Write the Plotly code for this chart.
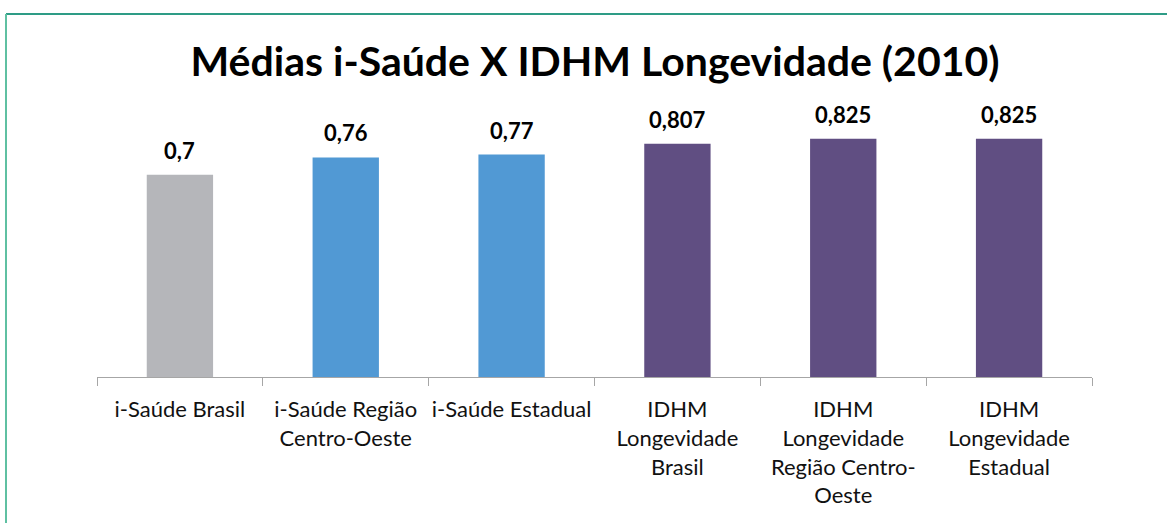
import plotly.graph_objects as go

categories = [
    "i-Saúde Brasil",
    "i-Saúde Região<br>Centro-Oeste",
    "i-Saúde Estadual",
    "IDHM<br>Longevidade<br>Brasil",
    "IDHM<br>Longevidade<br>Região Centro-<br>Oeste",
    "IDHM<br>Longevidade<br>Estadual",
]
values = [0.7, 0.76, 0.77, 0.807, 0.825, 0.825]
labels = ["0,7", "0,76", "0,77", "0,807", "0,825", "0,825"]
colors = ["#B5B6BA", "#5199D4", "#5199D4", "#604E82", "#604E82", "#604E82"]

W, H = 1167, 523
L, R, T, B = 97, 75, 117, 146
pw, ph = W - L - R, H - T - B

fig = go.Figure()
fig.add_trace(go.Bar(
    x=categories, y=values, marker=dict(color=colors, line=dict(width=0)),
    hoverinfo="skip",
))
for c, v, t in zip(categories, values, labels):
    fig.add_annotation(x=c, y=v, text="<b>" + t + "</b>", showarrow=False,
                       yanchor="bottom", yshift=9,
                       font=dict(family="Lato", size=22, color="#000000"))

def px_x(x):
    return (x - L) / pw

def px_y(y):
    return (H - B - y) / ph

fig.add_shape(type="line", xref="paper", yref="paper",
              x0=px_x(6), x1=px_x(W), y0=px_y(14), y1=px_y(14),
              line=dict(color="#2E9C86", width=2))
fig.add_shape(type="line", xref="paper", yref="paper",
              x0=px_x(6), x1=px_x(6), y0=px_y(14), y1=px_y(H),
              line=dict(color="#5FC0A2", width=2))

fig.update_layout(
    width=W, height=H,
    margin=dict(l=L, r=R, t=T, b=B, autoexpand=False),
    paper_bgcolor="white", plot_bgcolor="white",
    bargap=0.6,
    showlegend=False,
    title=dict(text="<b>Médias i-Saúde X IDHM Longevidade (2010)</b>",
               x=595 / W, xanchor="center", xref="container",
               y=1 - 62 / H, yanchor="middle", yref="container",
               font=dict(family="Lato", size=41, color="#000000")),
    xaxis=dict(showline=True, linecolor="#A6A6A6", linewidth=1,
               ticks="outside", tickson="boundaries", ticklen=8,
               tickcolor="#A6A6A6", ticklabelstandoff=13, tickangle=0,
               automargin=False,
               tickfont=dict(family="Lato", size=22, color="#111111"),
               showgrid=False, fixedrange=True),
    yaxis=dict(range=[0, 0.9], visible=False, showgrid=False, zeroline=False,
               automargin=False),
)

fig.write_html("out.html", config={"displayModeBar": False},
               post_script="document.body.style.margin='0';")
